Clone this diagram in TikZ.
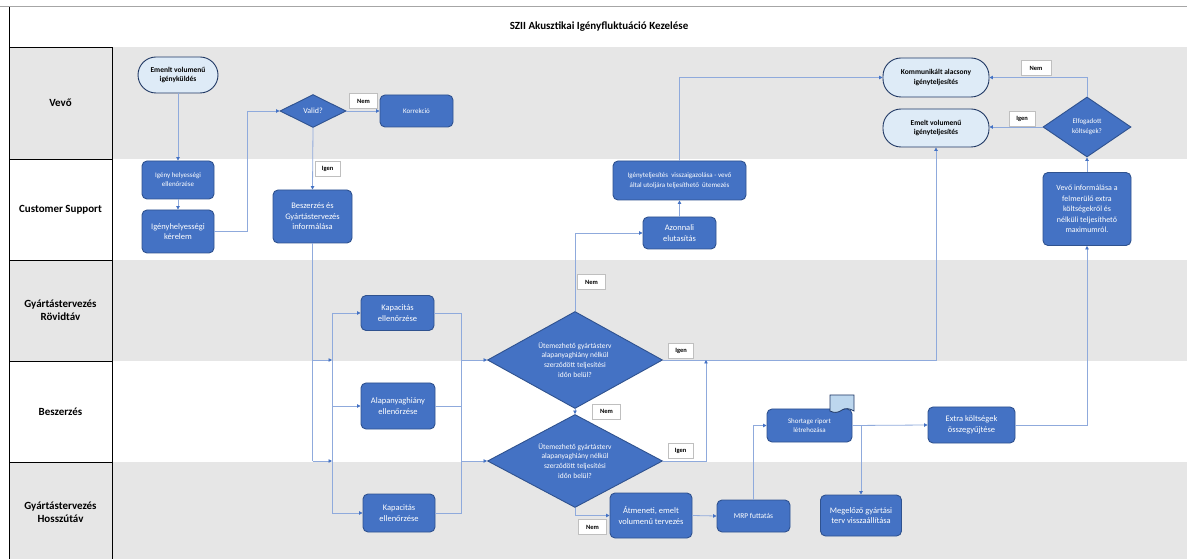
\documentclass[tikz,border=0pt]{standalone}
\usepackage{fontspec}
\setmainfont{Carlito}
\usetikzlibrary{shapes.geometric,arrows.meta}
\definecolor{procfill}{HTML}{4472C4}
\definecolor{procdraw}{HTML}{2F528F}
\definecolor{termfill}{HTML}{DEEBF7}
\definecolor{termdraw}{HTML}{203864}
\definecolor{connc}{HTML}{8FAADC}
\definecolor{tipc}{HTML}{4472C4}
\definecolor{lanegray}{HTML}{E6E6E6}
\definecolor{lblgray}{HTML}{BFBFBF}
\definecolor{docfill}{HTML}{BDD7EE}
\newcommand{\fsz}[2]{\fontsize{#1}{#2}\selectfont}
\begin{document}
\begin{tikzpicture}[x=1bp,y=-1bp,
 proc/.style={draw=procdraw, fill=procfill, rounded corners=5bp, text=white, align=center, line width=0.9bp, inner sep=1bp, font=\fsz{8.5}{10.5}},
 term/.style={draw=termdraw, fill=termfill, rounded corners=18bp, align=center, line width=0.9bp, inner sep=1bp, font=\fsz{7.5}{10}\bfseries},
 dec/.style={diamond, draw=procdraw, fill=procfill, text=white, align=center, line width=0.9bp, inner sep=0pt, font=\fsz{7.5}{10}},
 lbl/.style={draw=lblgray, fill=white, line width=0.8bp, font=\fsz{6.5}{7}\bfseries, minimum width=28bp, minimum height=15bp, inner sep=0pt},
 lane/.style={draw=black, line width=0.8bp, align=center, minimum width=103bp, font=\fsz{11}{13}\bfseries},
 cn/.style={draw=connc, line width=0.8bp, -{Triangle[length=3.5bp,width=3.5bp,fill=tipc,color=tipc]}},
 ln/.style={draw=connc, line width=0.8bp},
]
\useasboundingbox (0,0) rectangle (1187,559);
% background and lanes
\fill[white] (0,0) rectangle (1187,559);
\fill[lanegray] (112,47) rectangle (1187,159);
\fill[lanegray] (112,260) rectangle (1187,361);
\fill[lanegray] (112,462) rectangle (1187,559);
\draw[gray!70, line width=1bp] (0,7) -- (1187,7);
\draw[black, line width=0.8bp] (9,7) -- (9,47);
\node[lane, fill=lanegray, minimum height=112bp] (lvevo) at (60.5,103) {Vevő};
\node[lane, fill=white, minimum height=101bp] (lcs) at (60.5,209.5) {Customer Support};
\node[lane, fill=lanegray, minimum height=101bp] (lgyr) at (60.5,310.5) {Gyártástervezés\\Rövidtáv};
\node[lane, fill=white, minimum height=101bp] (lbesz) at (60.5,411.5) {Beszerzés};
\node[lane, fill=lanegray, minimum height=101bp] (lgyh) at (60.5,512.5) {Gyártástervezés\\Hosszútáv};
\node[font=\fsz{11}{13}\bfseries] (title) at (599,27) {SZII Akusztikai Igényfluktuáció Kezelése};

% nodes
\node[term, minimum width=80bp, minimum height=36bp] (start) at (178,75) {Emenlt volumenű\\igényküldés};
\node[proc, minimum width=72bp, minimum height=38bp, font=\fsz{7}{9}] (ihe) at (178,180) {Igény helyességi\\ellenőrzése};
\node[proc, minimum width=72bp, minimum height=43bp] (ihk) at (178,231.5) {Igényhelyességi\\kérelem};
\node[dec, aspect=2, minimum width=66bp, minimum height=33bp, font=\fsz{8}{10}] (valid) at (313,111) {Valid?};
\node[proc, minimum width=73bp, minimum height=32bp, font=\fsz{7}{9}] (korr) at (416.5,111) {Korrekció};
\node[proc, minimum width=79bp, minimum height=53bp] (bgi) at (312.5,216.5) {Beszerzés és\\Gyártástervezés\\informálása};
\node[proc, minimum width=73bp, minimum height=35bp] (kap1) at (397.5,313) {Kapacitás\\ellenőrzése};
\node[proc, minimum width=74bp, minimum height=46bp] (alap) at (398,406) {Alapanyaghiány\\ellenőrzése};
\node[proc, minimum width=72bp, minimum height=38bp] (kap2) at (399,513) {Kapacitás\\ellenőrzése};
\node[dec, aspect=1.8, minimum width=175bp, minimum height=97bp] (d1) at (575,360) {Ütemezhető gyártásterv\\alapanyaghiány nélkül\\szerződött teljesítési\\időn belül?};
\node[dec, aspect=1.8, minimum width=175bp, minimum height=93bp] (d2) at (575,461) {Ütemezhető gyártásterv\\alapanyaghiány nélkül\\szerződött teljesítési\\időn belül?};
\node[proc, minimum width=73bp, minimum height=32bp] (azon) at (679.5,233) {Azonnali\\elutasítás};
\node[proc, minimum width=133bp, minimum height=39bp, font=\fsz{7}{10}] (vissz) at (679.5,180.5) {Igényteljesítés\ \ visszaigazolása\ -\ vevő\\által\ utoljára\ teljesíthető\ \ ütemezés};
\node[proc, minimum width=82bp, minimum height=45bp] (atm) at (651,515.5) {Átmeneti, emelt\\volumenű tervezés};
\node[proc, minimum width=73bp, minimum height=32bp, font=\fsz{7.5}{9}] (mrp) at (753.5,516) {MRP futtatás};
\node[proc, minimum width=85bp, minimum height=33bp, font=\fsz{7}{9}] (short) at (809.5,425.5) {Shortage riport\\létrehozása};
\draw[draw=termdraw, fill=docfill, line width=0.8bp] (830,395) -- (854,395) -- (854,411) .. controls (849,408) and (845,408) .. (842,410) .. controls (838,413) and (834,413) .. (830,411) -- cycle;
\node[proc, minimum width=81bp, minimum height=41bp] (meg) at (861,515.5) {Megelőző gyártási\\terv visszaállítása};
\node[proc, minimum width=87bp, minimum height=36bp] (extra) at (971.5,425) {Extra költségek\\összegyűjtése};
\node[proc, minimum width=88bp, minimum height=73bp, font=\fsz{8}{10.5}] (vinf) at (1087,209) {Vevő informálása a\\felmerülő extra\\költségekről és\\nélküli teljesíthető\\maximumról.};
\node[dec, aspect=1.5, minimum width=88bp, minimum height=60bp, font=\fsz{7}{10}] (elf) at (1087,127) {Elfogadott\\költségek?};
\node[term, minimum width=106bp, minimum height=39bp] (komm) at (936,77.5) {Kommunikált alacsony\\igényteljesítés};
\node[term, minimum width=106bp, minimum height=38bp] (emelt) at (936,128) {Emelt volumenű\\igényteljesítés};

% helper coordinates
\coordinate (sp) at (332,0);
\coordinate (mg) at (461,0);
\coordinate (m2) at (706,0);

% connectors
\draw[cn] (start.south) -- (ihe.north);
\draw[cn] (ihe.south) -- (ihk.north);
\draw[cn] (ihk.east) -- ++(33,0) |- (valid.west);
\draw[cn] (valid.east) -- (korr.west);
\draw[cn] (valid.south) -- (bgi.north);
\draw[ln] (bgi.south) -- (bgi.south |- d2.west);
\draw[cn] (bgi.south |- d1.west) -- (d1.west -| sp);
\draw[cn] (bgi.south |- d2.west) -- (d2.west -| sp);
\draw[ln] (kap1.west -| sp) -- (kap2.west -| sp);
\draw[cn] (kap1.west -| sp) -- (kap1.west);
\draw[cn] (alap.west -| sp) -- (alap.west);
\draw[cn] (kap2.west -| sp) -- (kap2.west);
\draw[ln] (kap1.east) -- (kap1.east -| mg) -- (kap2.east -| mg) -- (kap2.east);
\draw[ln] (alap.east) -- (alap.east -| mg);
\draw[cn] (d1.west -| mg) -- (d1.west);
\draw[cn] (d2.west -| mg) -- (d2.west);
\draw[cn] (d1.north) |- (azon.west);
\draw[cn] (azon.north) -- (vissz.south);
\draw[cn] (vissz.north) |- (komm.west);
\draw[cn] (d1.east) -| (emelt.south);
\draw[cn] (d1.south) -- (d2.north);
\draw[cn] (d2.east) -| (d1.east -| m2);
\draw[cn] (d2.south) |- (atm.west);
\draw[cn] (atm.east) -- (mrp.west);
\draw[cn] (mrp.north) |- (short.west);
\draw[cn] (short.east) -- (extra.west);
\draw[cn] (meg.north |- short.east) -- (meg.north);
\draw[cn] (extra.east) -| (vinf.south);
\draw[cn] (vinf.north) -- (elf.south);
\draw[cn] (elf.west) -- (elf.west -| emelt.east);
\draw[cn] (elf.north) |- (komm.east);

% labels
\node[lbl] (lnem1) at (363.5,101) {Nem};
\node[lbl, minimum width=25bp] (ligen1) at (327.5,168.5) {Igen};
\node[lbl] (lnem2) at (591.5,282) {Nem};
\node[lbl, minimum width=25bp] (ligen2) at (681,350.5) {Igen};
\node[lbl] (lnem3) at (606.5,411.5) {Nem};
\node[lbl, minimum width=25bp] (ligen3) at (680.5,450.5) {Igen};
\node[lbl] (lnem4) at (592.5,527) {Nem};
\node[lbl, minimum width=30bp] (lnem5) at (1036,68) {Nem};
\node[lbl, minimum width=26bp] (ligen5) at (1022,118.5) {Igen};
\end{tikzpicture}
\end{document}
